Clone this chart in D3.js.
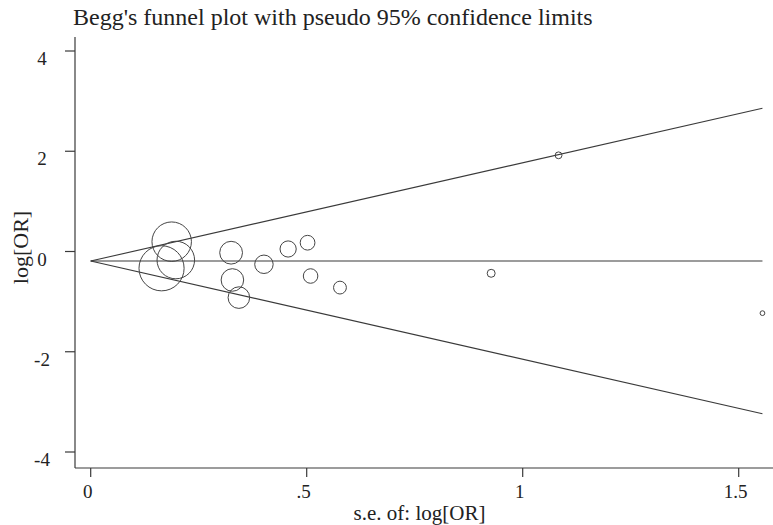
<!DOCTYPE html>
<html>
<head>
<meta charset="utf-8">
<script src="https://cdn.jsdelivr.net/npm/d3@7"></script>
<style>
  html, body { margin: 0; padding: 0; background: #fff; }
  svg { display: block; }
</style>
</head>
<body>
<svg id="chart" width="773" height="525"></svg>
<script>
// ---- data ----
const studySE    = [0.1875, 0.197, 0.164, 0.325, 0.328, 0.343, 0.401, 0.457, 0.502, 0.509, 0.577, 0.927, 1.083, 1.555];
const studyLogOR = [0.196, -0.17, -0.335, -0.024, -0.568, -0.92, -0.255, 0.05, 0.175, -0.489, -0.72, -0.435, 1.919, -1.23];
const pooledLogOR = -0.19;
const zCrit = 1.96;
const xTicks = [0, 0.5, 1, 1.5];
const xTickLabels = ["0", ".5", "1", "1.5"];
const yTicks = [-4, -2, 0, 2, 4];
const yTickLabels = ["-4", "-2", "0", "2", "4"];
const titleText = "Begg's funnel plot with pseudo 95% confidence limits";
const xTitle = "s.e. of: log[OR]";
const yTitle = "log[OR]";

// ---- layout ----
const svg = d3.select("#chart");
const FONT = "'Liberation Serif'";
const x = d3.scaleLinear().domain([0, 1.5]).range([90.7, 738.7]);
const y = d3.scaleLinear().domain([-4, 4]).range([452, 51]);
const axisLeftX = 75, axisBottomY = 468;
const ink = "#3a3a3a";
const txt = "#222";

// radius proportional to 1/se
const invSE = studySE.map(s => 1 / s);
const r = d3.scaleLinear().domain([0, d3.max(invSE)]).range([0, 3.7 * d3.max(invSE)]);

// axes lines
svg.append("line").attr("x1", axisLeftX).attr("x2", axisLeftX).attr("y1", 37).attr("y2", axisBottomY)
  .attr("stroke", ink).attr("stroke-width", 1.2);
svg.append("line").attr("x1", axisLeftX).attr("x2", 773).attr("y1", axisBottomY).attr("y2", axisBottomY)
  .attr("stroke", ink).attr("stroke-width", 1.2);

// y ticks
const yg = svg.append("g");
yTicks.forEach((t, i) => {
  yg.append("line").attr("x1", axisLeftX - 10).attr("x2", axisLeftX).attr("y1", y(t)).attr("y2", y(t))
    .attr("stroke", ink).attr("stroke-width", 1.2);
  yg.append("text").attr("x", 42).attr("y", y(t) + 14).attr("text-anchor", "middle")
    .style("font-family", FONT).attr("font-size", 19).attr("fill", txt).text(yTickLabels[i]);
});
// x ticks
const xg = svg.append("g");
xTicks.forEach((t, i) => {
  xg.append("line").attr("x1", x(t)).attr("x2", x(t)).attr("y1", axisBottomY).attr("y2", axisBottomY + 9)
    .attr("stroke", ink).attr("stroke-width", 1.2);
  xg.append("text").attr("x", x(t) - 3).attr("y", 498).attr("text-anchor", "middle")
    .style("font-family", FONT).attr("font-size", 19).attr("fill", txt).text(xTickLabels[i]);
});

// funnel lines
const seMax = d3.max(studySE);
const line = d3.line().x(d => x(d[0])).y(d => y(d[1]));
const seGrid = [0, seMax];
svg.append("path").attr("d", line(seGrid.map(s => [s, pooledLogOR]))).attr("fill", "none").attr("stroke", ink).attr("stroke-width", 1.1);
svg.append("path").attr("d", line(seGrid.map(s => [s, pooledLogOR + zCrit * s]))).attr("fill", "none").attr("stroke", ink).attr("stroke-width", 1.1);
svg.append("path").attr("d", line(seGrid.map(s => [s, pooledLogOR - zCrit * s]))).attr("fill", "none").attr("stroke", ink).attr("stroke-width", 1.1);

// points
svg.append("g").selectAll("circle").data(studySE.map((s, i) => ({ se: s, v: studyLogOR[i] })))
  .join("circle")
  .attr("cx", d => x(d.se)).attr("cy", d => y(d.v)).attr("r", d => r(1 / d.se))
  .attr("fill", "none").attr("stroke", "#444").attr("stroke-width", 1);

// titles
svg.append("text").attr("x", 73).attr("y", 25).style("font-family", FONT).attr("font-size", 24).attr("fill", txt).text(titleText);
svg.append("text").attr("x", 419.5).attr("y", 520).attr("text-anchor", "middle").style("font-family", FONT).attr("font-size", 21).attr("fill", txt).text(xTitle);
svg.append("text").attr("transform", "translate(28,247.5) rotate(-90)").attr("text-anchor", "middle")
  .style("font-family", FONT).attr("font-size", 22).attr("fill", txt).text(yTitle);
</script>
</body>
</html>
